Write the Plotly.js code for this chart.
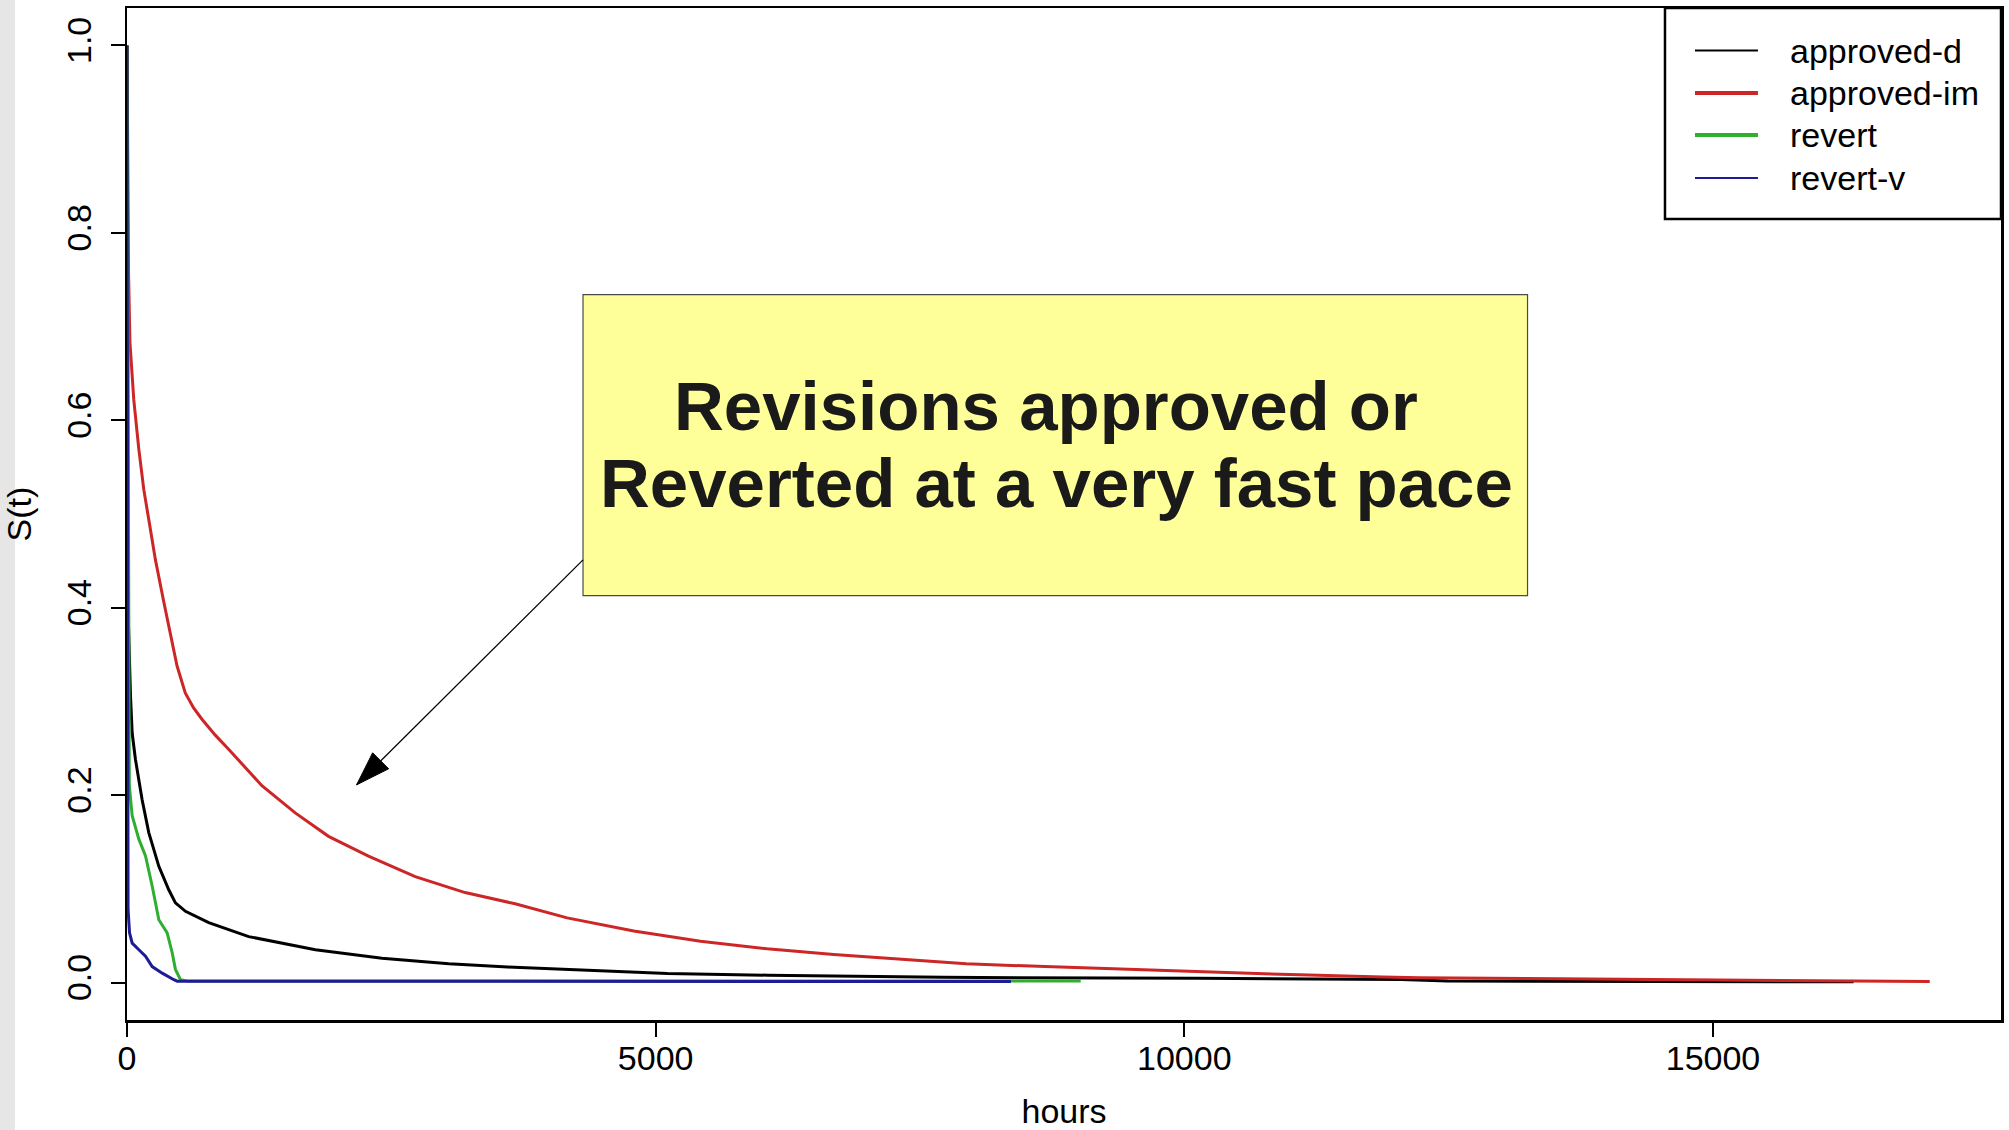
<!DOCTYPE html>
<html>
<head>
<meta charset="utf-8">
<script src="https://cdn.plot.ly/plotly-3.0.1.min.js"></script>
<style>
  html, body { margin: 0; padding: 0; background: #ffffff; }
  #chart { width: 2009px; height: 1130px; }
</style>
</head>
<body>
<div id="chart"></div>
<script>
// Kaplan-Meier survival estimates S(t) for time-to-decision (hours)
const seriesNames = ['approved-d', 'approved-im', 'revert', 'revert-v'];

const approvedDHours = [0, 12, 33, 49, 80, 143, 206, 301, 395, 458, 553, 773, 1151, 1782, 2412, 3043, 3600, 4166, 5112, 6058, 7004, 7720, 10130, 12050, 12490, 14210, 16330];
const approvedDSurv  = [1.0, 0.39, 0.306, 0.266, 0.238, 0.195, 0.160, 0.124, 0.099, 0.085, 0.076, 0.064, 0.049, 0.035, 0.026, 0.020, 0.0165, 0.014, 0.0096, 0.0078, 0.0062, 0.0055, 0.0045, 0.0032, 0.0015, 0.0012, 0.0008];

const approvedImHours = [0, 15, 28, 64, 112, 159, 206, 269, 350, 410, 473, 551, 630, 709, 835, 961, 1276, 1591, 1906, 2284, 2726, 3198, 3671, 4163, 4793, 5424, 6054, 6684, 7315, 7937, 8755, 9766, 11090, 11877, 12220, 13540, 15480, 16330, 17050];
const approvedImSurv  = [1.0, 0.754, 0.683, 0.622, 0.569, 0.526, 0.494, 0.451, 0.405, 0.374, 0.338, 0.309, 0.293, 0.281, 0.264, 0.249, 0.210, 0.181, 0.156, 0.135, 0.113, 0.096, 0.084, 0.069, 0.055, 0.044, 0.036, 0.030, 0.025, 0.020, 0.0167, 0.0128, 0.0082, 0.006, 0.0052, 0.0040, 0.0025, 0.0018, 0.001];

const revertHours = [0, 15, 22, 49, 112, 175, 238, 301, 380, 427, 458, 506, 584, 9020];
const revertSurv  = [1.0, 0.29, 0.21, 0.178, 0.153, 0.135, 0.103, 0.067, 0.053, 0.032, 0.014, 0.003, 0.0015, 0.0015];

const revertVHours = [0, 10, 24, 49, 112, 175, 238, 333, 443, 475, 8360];
const revertVSurv  = [1.0, 0.078, 0.053, 0.042, 0.035, 0.028, 0.017, 0.010, 0.003, 0.0014, 0.001];

const xTickVals = [0, 5000, 10000, 15000];
const xTickText = ['0', '5000', '10000', '15000'];
const yTickVals = [0, 0.2, 0.4, 0.6, 0.8, 1.0];
const yTickText = ['0.0', '0.2', '0.4', '0.6', '0.8', '1.0'];

const calloutLines = ['Revisions approved or', 'Reverted at a very fast pace'];

// styling
const seriesColors = ['#000000', '#cc2626', '#30ae30', '#1c1c94'];
const curveWidths = [3, 3, 3, 3];
const keyWidths = [2, 4, 4, 2];
const FONT = 'Liberation Sans, Arial, Helvetica, sans-serif';

const xs = [approvedDHours, approvedImHours, revertHours, revertVHours];
const ys = [approvedDSurv, approvedImSurv, revertSurv, revertVSurv];

const traces = seriesNames.map((name, i) => ({
  type: 'scatter',
  mode: 'lines',
  name: name,
  x: xs[i],
  y: ys[i],
  line: { color: seriesColors[i], width: curveWidths[i], shape: 'linear' },
  hoverinfo: 'x+y+name',
  showlegend: false
}));

// key box in the top-right corner of the plot frame
const keyBox = { x0: 0.8207, x1: 1.0, y0: 0.7915, y1: 1.0 };
const keyRowsY = [0.958, 0.916, 0.8745, 0.832];
const keyLineX = [0.8367, 0.8703];
const keyTextX = 0.8863;

const shapes = [
  // light grey strip along the left edge of the page
  { type: 'rect', xref: 'paper', yref: 'paper', x0: -0.0678, x1: -0.0598, y0: -0.2, y1: 1.2,
    fillcolor: '#e6e6e6', line: { width: 0 }, layer: 'below' },
  // key frame
  { type: 'rect', xref: 'paper', yref: 'paper', x0: keyBox.x0, x1: keyBox.x1, y0: keyBox.y0, y1: keyBox.y1,
    fillcolor: 'rgba(0,0,0,0)', line: { color: '#000000', width: 2.5 } },
  // callout box
  { type: 'rect', xref: 'x', yref: 'y', x0: 4313, x1: 13246, y0: 0.4128, y1: 0.7341,
    fillcolor: '#ffff99', line: { color: '#4a4a4a', width: 1.2 } },
  // callout pointer
  { type: 'line', xref: 'x', yref: 'y', x0: 4313, y0: 0.451, x1: 2172, y1: 0.211,
    line: { color: '#000000', width: 1.3 } },
  { type: 'path', xref: 'x', yref: 'y', xsizemode: 'pixel', ysizemode: 'pixel',
    xanchor: 2172, yanchor: 0.211,
    path: 'M0,0 L16,32 L32,16 Z', fillcolor: '#000000', line: { color: '#000000', width: 1 } }
];

seriesNames.forEach((name, i) => {
  shapes.push({ type: 'line', xref: 'paper', yref: 'paper',
    x0: keyLineX[0], x1: keyLineX[1], y0: keyRowsY[i], y1: keyRowsY[i],
    line: { color: seriesColors[i], width: keyWidths[i] } });
});

const annotations = seriesNames.map((name, i) => ({
  xref: 'paper', yref: 'paper', x: keyTextX, y: keyRowsY[i],
  xanchor: 'left', yanchor: 'middle', showarrow: false,
  text: name, font: { family: FONT, size: 34, color: '#000000' }
}));

annotations.push(
  { xref: 'x', yref: 'y', x: 8692, y: 0.6143, xanchor: 'center', yanchor: 'middle', showarrow: false,
    text: '<b>' + calloutLines[0] + '</b>', font: { family: FONT, size: 69, color: '#1a1a1a' } },
  { xref: 'x', yref: 'y', x: 8787, y: 0.5325, xanchor: 'center', yanchor: 'middle', showarrow: false,
    text: '<b>' + calloutLines[1] + '</b>', font: { family: FONT, size: 69, color: '#1a1a1a' } }
);

const axisCommon = {
  showgrid: false,
  zeroline: false,
  showline: true,
  linecolor: '#000000',
  linewidth: 2.5,
  mirror: true,
  ticks: 'outside',
  ticklen: 14,
  tickwidth: 2,
  tickcolor: '#000000',
  tickfont: { family: FONT, size: 34, color: '#000000' }
};

const layout = {
  width: 2009,
  height: 1130,
  margin: { l: 127, r: 8, t: 8, b: 110, pad: 0 },
  paper_bgcolor: '#ffffff',
  plot_bgcolor: '#ffffff',
  showlegend: false,
  xaxis: Object.assign({}, axisCommon, {
    range: [0, 17724],
    tickmode: 'array', tickvals: xTickVals, ticktext: xTickText,
    ticklabelstandoff: -7,
    title: { text: 'hours', font: { family: FONT, size: 34, color: '#000000' }, standoff: 45 }
  }),
  yaxis: Object.assign({}, axisCommon, {
    range: [-0.04, 1.04],
    tickmode: 'array', tickvals: yTickVals, ticktext: yTickText,
    tickangle: -90,
    ticklabelstandoff: 6,
    title: { text: 'S(t)', font: { family: FONT, size: 34, color: '#000000' }, standoff: 20 }
  }),
  shapes: shapes,
  annotations: annotations
};

Plotly.newPlot('chart', traces, layout, { displayModeBar: false, staticPlot: true });
</script>
</body>
</html>
